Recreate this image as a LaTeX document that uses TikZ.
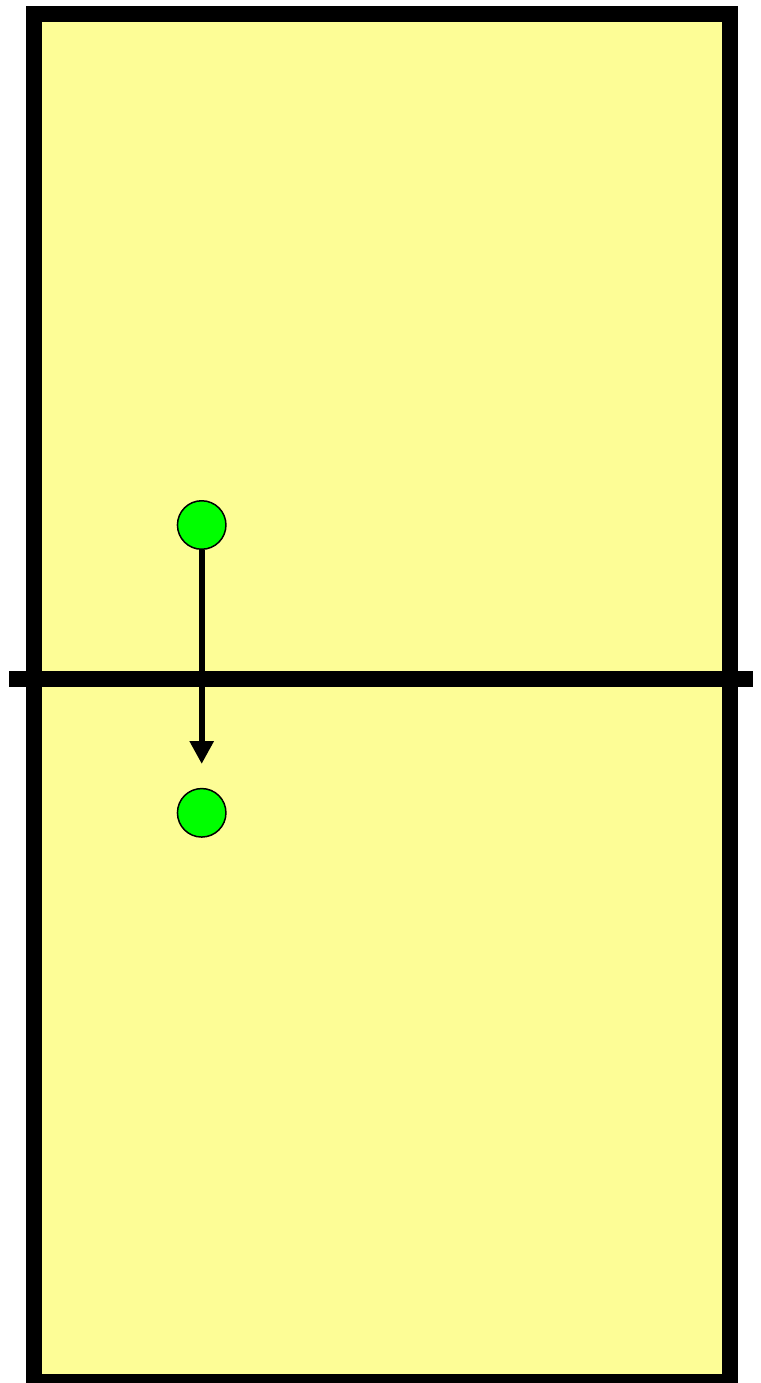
\documentclass[tikz,border=0pt]{standalone}
\usetikzlibrary{arrows.meta}
\definecolor{court}{RGB}{253,253,150}
\definecolor{player}{RGB}{0,255,0}
\tikzset{
  courtline/.style={line width=16pt, draw=black},
  playerdot/.style={circle, fill=player, draw=black, line width=1.5pt, minimum size=48.5pt, inner sep=0pt},
  movearrow/.style={line width=6pt, -{Triangle[length=23pt, width=23pt]}}
}
\begin{document}
\begin{tikzpicture}[x=1pt, y=-1pt]
\useasboundingbox (0,0) rectangle (760,1383);
\path[fill=court] (34,14) rectangle (729.5,1382);
\draw[courtline] (34,14) rectangle (729.5,1382);
\coordinate (netL) at (9,679);
\coordinate (netR) at (753,679);
\draw[courtline, line cap=butt] (netL) -- (netR);
\node[playerdot] (p1) at (201.7,525) {};
\node[playerdot] (p2) at (201.7,812.8) {};
\coordinate (tip) at (201.7,764);
\draw[movearrow] (p1.south) -- (tip);
\end{tikzpicture}
\end{document}
